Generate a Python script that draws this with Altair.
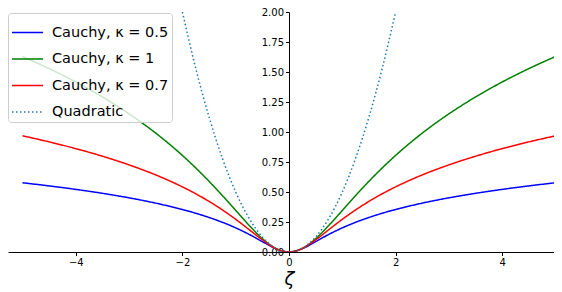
import altair as alt
import pandas as pd

zeta = [-5.0, -4.75, -4.5, -4.25, -4.0, -3.75, -3.5, -3.25, -3.0, -2.75, -2.5, -2.25,
        -2.0, -1.75, -1.5, -1.25, -1.0, -0.75, -0.5, -0.25, 0.0, 0.25, 0.5, 0.75, 1.0,
        1.25, 1.5, 1.75, 2.0, 2.25, 2.5, 2.75, 3.0, 3.25, 3.5, 3.75, 4.0, 4.25, 4.5,
        4.75, 5.0]

cauchy_05 = [0.5769, 0.5642, 0.5508, 0.5367, 0.5218, 0.5059, 0.4890, 0.4709, 0.4514,
             0.4303, 0.4073, 0.3820, 0.3542, 0.3230, 0.2878, 0.2476, 0.2012, 0.1473,
             0.0866, 0.0279, 0.0, 0.0279, 0.0866, 0.1473, 0.2012, 0.2476, 0.2878,
             0.3230, 0.3542, 0.3820, 0.4073, 0.4303, 0.4514, 0.4709, 0.4890, 0.5059,
             0.5218, 0.5367, 0.5508, 0.5642, 0.5769]

cauchy_1 = [1.6290, 1.5798, 1.5282, 1.4739, 1.4166, 1.3561, 1.2920, 1.2239, 1.1513,
            1.0737, 0.9905, 0.9011, 0.8047, 0.7009, 0.5893, 0.4705, 0.3466, 0.2231,
            0.1116, 0.0303, 0.0, 0.0303, 0.1116, 0.2231, 0.3466, 0.4705, 0.5893,
            0.7009, 0.8047, 0.9011, 0.9905, 1.0737, 1.1513, 1.2239, 1.2920, 1.3561,
            1.4166, 1.4739, 1.5282, 1.5798, 1.6290]

cauchy_07 = [0.9682, 0.9435, 0.9176, 0.8903, 0.8614, 0.8308, 0.7982, 0.7634, 0.7261,
             0.6858, 0.6422, 0.5948, 0.5427, 0.4853, 0.4217, 0.3509, 0.2725, 0.1873,
             0.1010, 0.0294, 0.0, 0.0294, 0.1010, 0.1873, 0.2725, 0.3509, 0.4217,
             0.4853, 0.5427, 0.5948, 0.6422, 0.6858, 0.7261, 0.7634, 0.7982, 0.8308,
             0.8614, 0.8903, 0.9176, 0.9435, 0.9682]

quad_zeta = [-2.0, -1.75, -1.5, -1.25, -1.0, -0.75, -0.5, -0.25, 0.0, 0.25, 0.5, 0.75,
             1.0, 1.25, 1.5, 1.75, 2.0]
quadratic = [2.0, 1.53125, 1.125, 0.78125, 0.5, 0.28125, 0.125, 0.03125, 0.0, 0.03125,
             0.125, 0.28125, 0.5, 0.78125, 1.125, 1.53125, 2.0]

series_names = ["Cauchy, κ = 0.5", "Cauchy, κ = 1", "Cauchy, κ = 0.7", "Quadratic"]
series_colors = ["#0000ff", "#008000", "#ff0000", "#1f77b4"]
x_ticks = [-4, -2, 0, 2, 4]
y_ticks = [0.0, 0.25, 0.5, 0.75, 1.0, 1.25, 1.5, 1.75, 2.0]

rows = []
for name, vals in zip(series_names[:3], [cauchy_05, cauchy_1, cauchy_07]):
    for z, v in zip(zeta, vals):
        rows.append({"zeta": z, "loss": v, "series": name})
for z, v in zip(quad_zeta, quadratic):
    rows.append({"zeta": z, "loss": v, "series": series_names[3]})
df = pd.DataFrame(rows)

W, H = 546, 240
xmin, xmax = -5.272, 4.972
x0_px = (0 - xmin) / (xmax - xmin) * W

lines = alt.Chart(df).mark_line(strokeWidth=1.5, interpolate="monotone", clip=True).encode(
    x=alt.X("zeta:Q",
            scale=alt.Scale(domain=[xmin, xmax], nice=False, zero=False),
            axis=alt.Axis(values=x_ticks, title="ζ", titleFontStyle="italic",
                          titleFontSize=18, titleFont="DejaVu Sans", titleFontWeight="normal",
                          titleX=x0_px, titlePadding=3,
                          labelFont="DejaVu Sans", labelFontSize=10, labelColor="black",
                          tickColor="black", tickSize=3.5, domainColor="black",
                          labelPadding=2, grid=False)),
    y=alt.Y("loss:Q",
            scale=alt.Scale(domain=[0, 2], nice=False),
            axis=alt.Axis(values=y_ticks, format=".2f", title=None, offset=-x0_px,
                          labelFont="DejaVu Sans", labelFontSize=10, labelColor="black",
                          tickColor="black", tickSize=3.5, domainColor="black",
                          labelPadding=2, grid=False)),
    color=alt.Color("series:N",
                    scale=alt.Scale(domain=series_names, range=series_colors),
                    legend=alt.Legend(title=None, orient="none", legendX=0, legendY=1,
                                      labelFont="DejaVu Sans", labelFontSize=14.5,
                                      labelColor="black",
                                      symbolType="stroke", symbolSize=961,
                                      symbolStrokeWidth=1.5, rowPadding=3.5,
                                      labelOffset=8, padding=3,
                                      strokeColor="#cccccc", cornerRadius=3,
                                      fillColor="rgba(255,255,255,0.8)")),
    strokeDash=alt.StrokeDash("series:N",
                              scale=alt.Scale(domain=series_names,
                                              range=[[1, 0], [1, 0], [1, 0], [1.5, 2.5]]),
                              legend=alt.Legend(title=None)),
)

chart = lines.properties(
    width=W, height=H,
    autosize=alt.AutoSizeParams(type="none"),
    padding={"left": 0, "top": 4, "right": 0, "bottom": 40},
).configure(background="white").configure_view(strokeWidth=0)

chart.save("out.html", embed_options={"renderer": "svg", "actions": False})
